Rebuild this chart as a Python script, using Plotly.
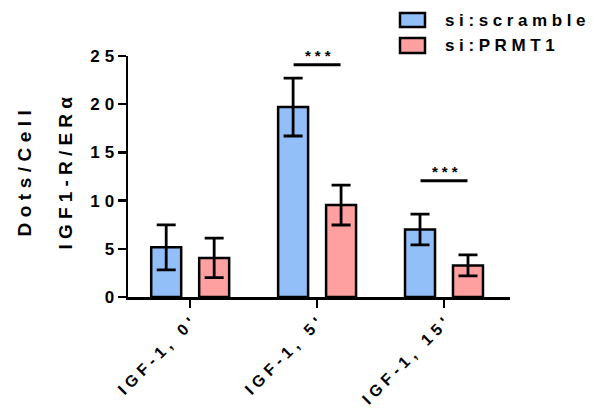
import plotly.graph_objects as go

categories = ["IGF-1, 0'", "IGF-1, 5'", "IGF-1, 15'"]
series_names = ["si:scramble", "si:PRMT1"]
scramble_mean = [5.15, 19.7, 7.0]
scramble_err = [2.33, 3.0, 1.6]
prmt1_mean = [4.05, 9.54, 3.28]
prmt1_err = [2.05, 2.07, 1.08]
y_ticks = [0, 5, 10, 15, 20, 25]
sig_groups = [1, 2]
sig_level = [24.1, 12.05]
sig_labels = ["***", "***"]

BLUE = "#93BFF8"
PINK = "#FFA0A0"
FONT = "Arial, Liberation Sans, sans-serif"

W, H = 604, 410
L, R, T, B = 128, 94, 56, 113
PW, PH = W - L - R, H - T - B


def sp(text, ls):
    head, tail = text[:-1], text[-1]
    out = ""
    if head:
        out += f'<span style="letter-spacing:{ls}px;font-weight:bold">{head}</span>'
    out += f'<span style="font-weight:bold">{tail}</span>'
    return out


def px(x):
    return (x - L) / PW


def py(y):
    return (H - B - y) / PH


fig = go.Figure()
for name, mean, err, col in [(series_names[0], scramble_mean, scramble_err, BLUE),
                             (series_names[1], prmt1_mean, prmt1_err, PINK)]:
    fig.add_trace(go.Bar(
        x=categories, y=mean, name=name,
        marker=dict(color=col, line=dict(color="black", width=2.5)),
        error_y=dict(type="data", array=err, color="black", thickness=2.8, width=9.5),
        showlegend=False, hoverinfo="skip",
    ))

# significance brackets
for g, lvl, lab in zip(sig_groups, sig_level, sig_labels):
    fig.add_shape(type="line", xref="x", yref="y",
                  x0=g - 0.185, x1=g + 0.185, y0=lvl, y1=lvl,
                  line=dict(color="black", width=3))
    fig.add_annotation(x=categories[g], y=lvl, xref="x", yref="y",
                       text=sp(lab, 4), showarrow=False, yanchor="bottom",
                       xshift=1, yshift=-1,
                       font=dict(family=FONT, size=15, color="black", weight="bold"))

# manual legend
legend_rows = [(13, 27), (38, 53)]
for (y0, y1), name, col in zip(legend_rows, series_names, [BLUE, PINK]):
    fig.add_shape(type="rect", xref="paper", yref="paper",
                  x0=px(400), x1=px(425), y0=py(y1), y1=py(y0),
                  fillcolor=col, line=dict(color="black", width=2.5))
    fig.add_annotation(x=px(443), y=py((y0 + y1) / 2), xref="paper", yref="paper",
                       text=sp(name, 4.6), showarrow=False, xanchor="left", yanchor="middle",
                       font=dict(family=FONT, size=17, color="black", weight="bold"))

# y-axis title (two lines)
for xc, txt, ls in [(24, "Dots/Cell", 5.5), (65, "IGF1-R/ER\u03b1", 5.2)]:
    fig.add_annotation(x=0, y=0.5, xref="paper", yref="paper",
                       xshift=xc - L, yshift=3,
                       text=sp(txt, ls), showarrow=False, textangle=-90,
                       xanchor="center", yanchor="middle",
                       font=dict(family=FONT, size=19, color="black", weight="bold"))

fig.update_layout(
    width=W, height=H,
    margin=dict(l=L, r=R, t=T, b=B, pad=0, autoexpand=False),
    paper_bgcolor="white", plot_bgcolor="white",
    barmode="group", bargap=0.244, bargroupgap=0.375,
    showlegend=False, hovermode=False,
    font=dict(family=FONT, color="black", weight="bold"),
)
fig.update_xaxes(
    range=[-0.49, 2.52], automargin=False,
    showline=True, linecolor="black", linewidth=2.5,
    ticks="outside", ticklen=8, tickwidth=2.5, tickcolor="black",
    tickangle=-45, showgrid=False, zeroline=False,
    tickvals=categories, ticktext=[sp(c, 4.8) for c in categories],
    tickfont=dict(family=FONT, size=16, color="black", weight="bold"),
)
fig.update_yaxes(
    range=[0, 25], automargin=False,
    showline=True, linecolor="black", linewidth=2.5,
    ticks="outside", ticklen=8, tickwidth=2.5, tickcolor="black",
    showgrid=False, zeroline=False,
    tickvals=y_ticks, ticktext=[sp(str(v), 5) for v in y_ticks],
    tickfont=dict(family=FONT, size=17, color="black", weight="bold"),
)

fig.write_html("out.html", config={"displayModeBar": False, "staticPlot": True},
               post_script="document.body.style.margin='0';document.body.style.padding='0';")
